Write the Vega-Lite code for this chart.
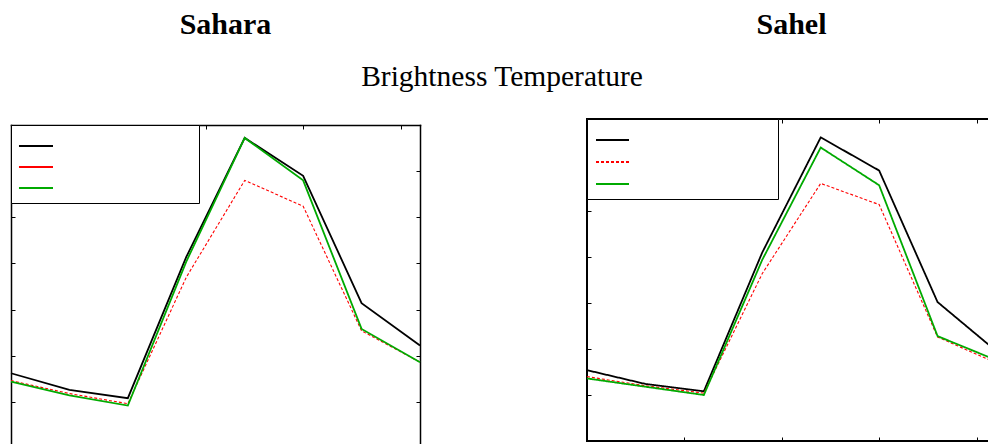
{
  "$schema": "https://vega.github.io/schema/vega-lite/v6.json",
  "autosize": {"type": "pad"},
  "padding": {"left": 7, "top": 8, "right": 0, "bottom": 0},
  "background": "white",
  "title": {"text": "Brightness Temperature", "font": "Liberation Serif", "fontSize": 29.5, "fontWeight": "normal", "baseline": "top", "anchor": "middle", "offset": 0, "dy": 84, "dx": -2, "color": "black"},
  "datasets": {
    "sahara": [
      {"hour": 0, "series": "obs", "tb": 278.1}, {"hour": 3, "series": "obs", "tb": 276.3}, {"hour": 6, "series": "obs", "tb": 275.4}, {"hour": 9, "series": "obs", "tb": 290.7},
      {"hour": 12, "series": "obs", "tb": 303.6}, {"hour": 15, "series": "obs", "tb": 299.5}, {"hour": 18, "series": "obs", "tb": 285.7}, {"hour": 21, "series": "obs", "tb": 281.1},
      {"hour": 0, "series": "sim_ctl", "tb": 277.3}, {"hour": 3, "series": "sim_ctl", "tb": 275.9}, {"hour": 6, "series": "sim_ctl", "tb": 274.8}, {"hour": 9, "series": "sim_ctl", "tb": 288.5},
      {"hour": 12, "series": "sim_ctl", "tb": 299.0}, {"hour": 15, "series": "sim_ctl", "tb": 296.2}, {"hour": 18, "series": "sim_ctl", "tb": 282.7}, {"hour": 21, "series": "sim_ctl", "tb": 279.3},
      {"hour": 0, "series": "sim_exp", "tb": 277.2}, {"hour": 3, "series": "sim_exp", "tb": 275.7}, {"hour": 6, "series": "sim_exp", "tb": 274.6}, {"hour": 9, "series": "sim_exp", "tb": 290.2},
      {"hour": 12, "series": "sim_exp", "tb": 303.6}, {"hour": 15, "series": "sim_exp", "tb": 299.0}, {"hour": 18, "series": "sim_exp", "tb": 282.9}, {"hour": 21, "series": "sim_exp", "tb": 279.3}
    ],
    "sahel": [
      {"hour": 0, "series": "obs", "tb": 277.7}, {"hour": 3, "series": "obs", "tb": 276.2}, {"hour": 6, "series": "obs", "tb": 275.4}, {"hour": 9, "series": "obs", "tb": 290.5},
      {"hour": 12, "series": "obs", "tb": 303.0}, {"hour": 15, "series": "obs", "tb": 299.4}, {"hour": 18, "series": "obs", "tb": 285.1}, {"hour": 21, "series": "obs", "tb": 279.8},
      {"hour": 0, "series": "sim_ctl", "tb": 277.0}, {"hour": 3, "series": "sim_ctl", "tb": 276.0}, {"hour": 6, "series": "sim_ctl", "tb": 275.2}, {"hour": 9, "series": "sim_ctl", "tb": 288.2},
      {"hour": 12, "series": "sim_ctl", "tb": 298.0}, {"hour": 15, "series": "sim_ctl", "tb": 295.7}, {"hour": 18, "series": "sim_ctl", "tb": 281.3}, {"hour": 21, "series": "sim_ctl", "tb": 278.5},
      {"hour": 0, "series": "sim_exp", "tb": 276.8}, {"hour": 3, "series": "sim_exp", "tb": 275.9}, {"hour": 6, "series": "sim_exp", "tb": 275.0}, {"hour": 9, "series": "sim_exp", "tb": 289.7},
      {"hour": 12, "series": "sim_exp", "tb": 301.9}, {"hour": 15, "series": "sim_exp", "tb": 297.8}, {"hour": 18, "series": "sim_exp", "tb": 281.4}, {"hour": 21, "series": "sim_exp", "tb": 278.8}
    ]
  },
  "spacing": 158,
  "resolve": {
    "scale": {"color": "independent", "strokeDash": "independent"},
    "legend": {"color": "independent", "strokeDash": "independent"}
  },
  "hconcat": [
    {
      "width": 409,
      "height": 329,
      "title": {"text": "Sahara", "offset": 79, "dx": 10},
      "view": {"stroke": null},
      "data": {"name": "sahara"},
      "layer": [
        {
          "transform": [{"filter": "datum.series === 'obs'"}],
          "mark": {"type": "line", "strokeWidth": 1.8},
          "encoding": {
            "x": {"field": "hour", "type": "quantitative", "scale": {"domain": [0, 21], "nice": false, "zero": false}, "axis": {"orient": "bottom", "values": [0, 5, 10, 15, 20], "title": null, "domain": true, "domainColor": "black", "domainWidth": 1.5, "domainCap": "square"}},
            "y": {"field": "tb", "type": "quantitative", "scale": {"domain": [270, 305], "range": [329, 6], "nice": false, "zero": false}, "axis": {"orient": "left", "values": [270, 275, 280, 285, 290, 295, 300, 305], "title": null, "domain": true, "domainColor": "black", "domainWidth": 1.5, "domainCap": "square"}},
            "color": {"field": "series", "type": "nominal", "scale": {"domain": ["obs", "sim_ctl", "sim_exp"], "range": ["#000000", "#ff0000", "#00aa00"]},
              "legend": {"orient": "none", "legendX": 0, "legendY": 6, "title": null, "labelExpr": "''", "symbolType": "M-1.24,0H2", "symbolSize": 441, "symbolStrokeWidth": 2, "padding": 9.5, "labelOffset": 146, "rowPadding": 4, "strokeColor": "black", "fillColor": "white", "labelFontSize": 10}}
          }
        },
        {
          "transform": [{"filter": "datum.series === 'sim_ctl'"}],
          "mark": {"type": "line", "strokeWidth": 1.1, "strokeDash": [3, 2]},
          "encoding": {
            "x": {"field": "hour", "type": "quantitative", "axis": null},
            "y": {"field": "tb", "type": "quantitative", "axis": null},
            "color": {"field": "series", "type": "nominal"}
          }
        },
        {
          "transform": [{"filter": "datum.series === 'sim_exp'"}],
          "mark": {"type": "line", "strokeWidth": 1.8},
          "encoding": {
            "x": {"field": "hour", "type": "quantitative", "axis": null},
            "y": {"field": "tb", "type": "quantitative", "axis": null},
            "color": {"field": "series", "type": "nominal"}
          }
        },
        {
          "mark": {"type": "point", "opacity": 0},
          "encoding": {
            "x": {"field": "hour", "type": "quantitative", "axis": {"orient": "top", "offset": -6, "values": [0, 5, 10, 15, 20], "title": null, "domain": true, "domainColor": "black", "domainWidth": 1.5, "domainCap": "square"}},
            "y": {"field": "tb", "type": "quantitative", "axis": {"orient": "right", "values": [270, 275, 280, 285, 290, 295, 300, 305], "title": null, "domain": true, "domainColor": "black", "domainWidth": 1.5, "domainCap": "square"}}
          }
        }
      ],
      "resolve": {"axis": {"x": "independent", "y": "independent"}}
    },
    {
      "width": 409,
      "height": 322,
      "title": {"text": "Sahel", "offset": 79},
      "view": {"stroke": "black", "strokeWidth": 2},
      "data": {"name": "sahel"},
      "layer": [
        {
          "transform": [{"filter": "datum.series === 'obs'"}],
          "mark": {"type": "line", "strokeWidth": 1.8},
          "encoding": {
            "x": {"field": "hour", "type": "quantitative", "scale": {"domain": [0, 21], "nice": false, "zero": false}, "axis": {"orient": "bottom", "values": [0, 5, 10, 15, 20], "title": null}},
            "y": {"field": "tb", "type": "quantitative", "scale": {"domain": [270, 305], "nice": false, "zero": false}, "axis": {"orient": "left", "values": [270, 275, 280, 285, 290, 295, 300, 305], "title": null}},
            "color": {"field": "series", "type": "nominal", "scale": {"domain": ["obs", "sim_ctl", "sim_exp"], "range": ["#000000", "#ff0000", "#00aa00"]},
              "legend": {"orient": "top-left", "offset": 0, "title": null, "labelExpr": "''", "symbolType": "M-1.143,0H2", "symbolSize": 441, "symbolStrokeWidth": 2, "padding": 9.5, "labelOffset": 149, "rowPadding": 5, "strokeColor": "black", "fillColor": "white", "labelFontSize": 10}},
            "strokeDash": {"field": "series", "type": "nominal", "scale": {"domain": ["obs", "sim_ctl", "sim_exp"], "range": [[1, 0], [3, 2], [1, 0]]},
              "legend": {"orient": "top-left", "offset": 0, "title": null, "labelExpr": "''", "symbolType": "M-1.143,0H2", "symbolSize": 441, "symbolStrokeWidth": 2, "padding": 9.5, "labelOffset": 149, "rowPadding": 5, "strokeColor": "black", "fillColor": "white", "labelFontSize": 10}}
          }
        },
        {
          "transform": [{"filter": "datum.series === 'sim_ctl'"}],
          "mark": {"type": "line", "strokeWidth": 1.1},
          "encoding": {
            "x": {"field": "hour", "type": "quantitative", "axis": null},
            "y": {"field": "tb", "type": "quantitative", "axis": null},
            "color": {"field": "series", "type": "nominal"},
            "strokeDash": {"field": "series", "type": "nominal"}
          }
        },
        {
          "transform": [{"filter": "datum.series === 'sim_exp'"}],
          "mark": {"type": "line", "strokeWidth": 1.8},
          "encoding": {
            "x": {"field": "hour", "type": "quantitative", "axis": null},
            "y": {"field": "tb", "type": "quantitative", "axis": null},
            "color": {"field": "series", "type": "nominal"},
            "strokeDash": {"field": "series", "type": "nominal"}
          }
        },
        {
          "mark": {"type": "point", "opacity": 0},
          "encoding": {
            "x": {"field": "hour", "type": "quantitative", "axis": {"orient": "top", "values": [0, 5, 10, 15, 20], "title": null}},
            "y": {"field": "tb", "type": "quantitative", "axis": {"orient": "right", "values": [270, 275, 280, 285, 290, 295, 300, 305], "title": null}}
          }
        }
      ],
      "resolve": {"axis": {"x": "independent", "y": "independent"}}
    }
  ],
  "config": {
    "title": {"font": "Liberation Serif", "fontSize": 30, "fontWeight": "bold", "baseline": "top", "color": "black", "anchor": "middle"},
    "axis": {"labels": false, "domain": false, "grid": false, "ticks": true, "tickSize": -4, "tickColor": "black", "tickWidth": 1},
    "view": {"stroke": "black"}
  }
}
